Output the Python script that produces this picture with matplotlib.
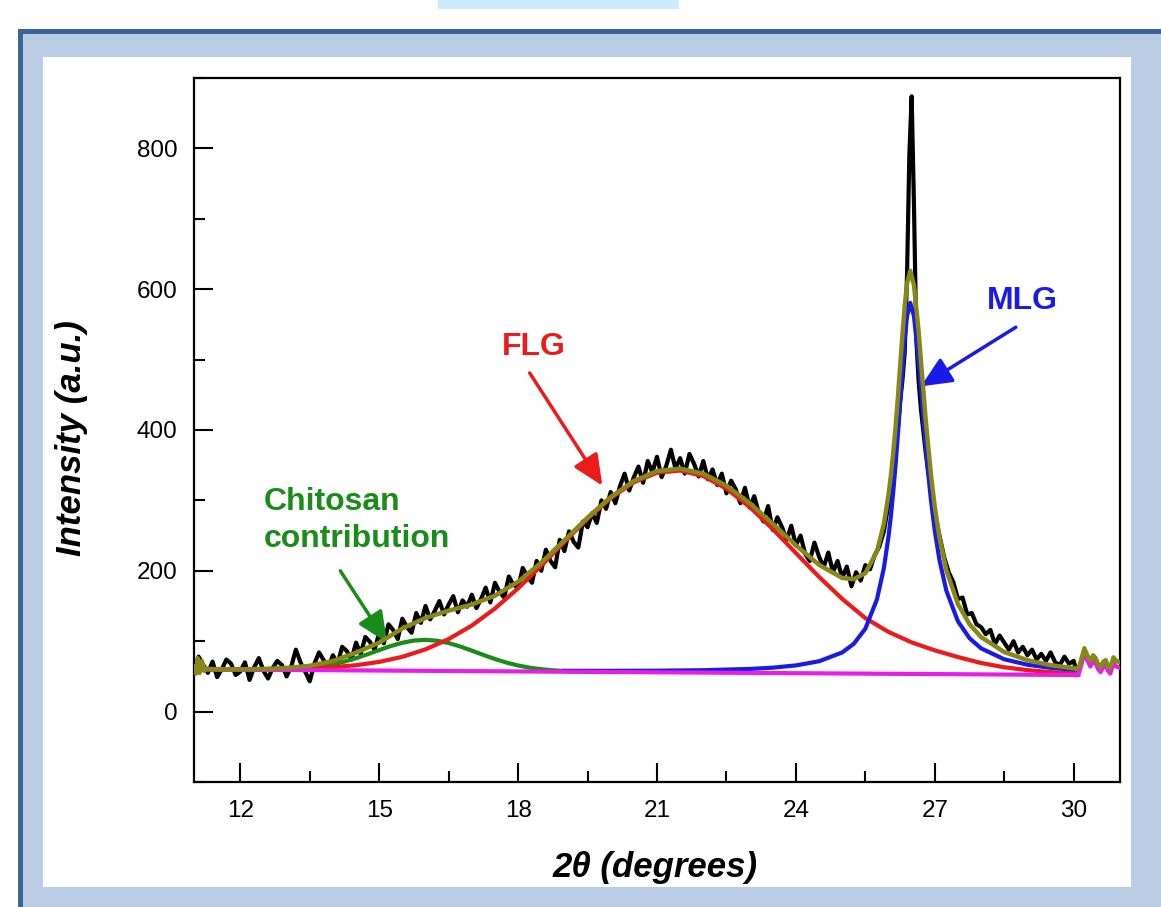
import numpy as np
import matplotlib
matplotlib.use("Agg")
import matplotlib.pyplot as plt
from matplotlib.patches import Rectangle
from matplotlib.ticker import MultipleLocator

plt.rcParams['font.family'] = ['Liberation Sans', 'DejaVu Sans']

# ---------------- data ----------------
# raw XRD pattern (black)
black_x = np.concatenate([np.round(np.arange(11.0, 25.95, 0.1), 2),
                          np.round(np.arange(26.0, 27.01, 0.05), 2),
                          np.round(np.arange(27.1, 30.01, 0.1), 2),
                          [30.05]])
black_y = [62, 78, 66, 55, 71, 49, 60, 74, 68, 52,
           57, 70, 45, 63, 76, 58, 47, 62, 72, 66,
           50, 64, 88, 70, 57, 43, 68, 84, 73, 62,
           80, 68, 92, 86, 74, 98, 82, 106, 99, 88,
           112, 97, 124, 116, 103, 132, 120, 112, 140, 126,
           150, 131, 143, 157, 138, 152, 164, 141, 158, 149,
           166, 147, 160, 176, 155, 183, 170, 162, 192, 180,
           176, 204, 192, 183, 214, 200, 230, 214, 205, 244,
           228, 256, 241, 233, 270, 262, 282, 268, 300, 288,
           312, 296, 320, 338, 314, 333, 348, 325, 356, 340,
           362, 333, 349, 372, 345, 360, 338, 366, 352, 334,
           356, 330, 344, 322, 338, 310, 328, 316, 296, 318,
           290, 306, 282, 270, 292, 258, 276, 262, 244, 264,
           236, 250, 224, 214, 240, 220, 205, 226, 198, 214,
           190, 206, 178, 198, 186, 208, 202, 222, 234, 256,
           295, 322, 350, 375, 400, 440, 470, 510, 620, 790, 874,
           720, 530, 470, 430, 400, 370, 345, 322, 300, 282,
           250, 220, 198, 184, 160, 162, 138, 140, 124,
           120, 110, 116, 96, 108, 98, 88, 100, 84, 92,
           80, 88, 74, 82, 72, 84, 70, 66, 78, 68,
           72, 60]

# baseline (magenta)
base_x = [11.0, 30.1]
base_y = [60.0, 52.0]

# chitosan contribution (green)
green_x = [11, 12, 12.5, 13, 13.25, 13.5, 13.75, 14, 14.25, 14.5, 14.75, 15, 15.25,
           15.5, 15.75, 16, 16.25, 16.5, 16.75, 17, 17.25, 17.5, 17.75, 18, 18.25,
           18.5, 18.75, 19, 19.5, 20]
green_y = [60.0, 59.6, 59.7, 60.2, 61.0, 62.3, 64.3, 67.2, 71.0, 75.9, 81.5, 87.4, 93.1,
           97.8, 100.9, 101.9, 100.7, 97.4, 92.5, 86.6, 80.5, 74.7, 69.6, 65.5, 62.4,
           60.2, 58.7, 57.7, 56.8, 56.3]

# FLG (red)
red_x = [11, 12, 12.5, 13, 13.5, 14, 14.5, 15, 15.5, 16, 16.5, 17, 17.5, 18, 18.5,
         19, 19.5, 20, 20.5, 21, 21.5, 22, 22.5, 23, 23.5, 24, 24.5, 25, 25.5, 26,
         26.5, 27, 27.5, 28, 28.5, 29, 29.5, 30, 30.1]
red_y = [60.0, 59.9, 60.0, 60.5, 61.4, 63.1, 65.9, 70.6, 77.8, 88.4, 103.0, 122.2,
         146.4, 175.1, 207.2, 241.0, 273.9, 303.1, 325.7, 339.3, 342.4, 334.6, 316.7,
         290.7, 259.3, 225.2, 191.4, 160.1, 132.8, 113.2, 98.3, 87.0, 77.5, 69.0,
         63.0, 58.9, 56.1, 54.1, 53.8]

# MLG (blue)
blue_x = [19, 20, 21, 22, 23, 23.5, 24, 24.5, 25, 25.25, 25.5, 25.75, 25.9, 26, 26.05,
          26.1, 26.15, 26.2, 26.25, 26.3, 26.35, 26.4, 26.47, 26.55, 26.65, 26.7, 26.75,
          26.8, 26.85, 26.92, 27, 27.1, 27.25, 27.5, 27.75, 28, 28.5, 29, 29.5, 30, 30.1]
blue_y = [57.9, 57.9, 58.1, 58.8, 60.6, 62.4, 65.6, 71.5, 84.0, 96.3, 117.8, 159.3,
          203.8, 248.6, 276.9, 310.0, 348.1, 391.0, 437.3, 484.5, 527.9, 561.4, 580.6,
          562.0, 498.7, 458.9, 418.3, 379.3, 343.2, 298.7, 256.6, 215.5, 171.7, 128.2,
          104.2, 89.8, 74.3, 66.6, 62.2, 59.5, 59.0]

# cumulative fit (olive)
olive_x = [11.0, 11.04, 11.08, 11.12, 11.17, 11.22, 11.27, 11.5, 12, 12.5, 13, 13.5,
           14, 14.5, 15, 15.5, 16, 16.5, 17, 17.5, 18, 18.5, 19, 19.5, 20, 20.5, 21,
           21.5, 22, 22.5, 23, 23.5, 24, 24.5, 25, 25.25, 25.5, 25.75, 25.9, 26, 26.05,
           26.1, 26.15, 26.2, 26.25, 26.3, 26.35, 26.4, 26.47, 26.55, 26.65, 26.7, 26.75,
           26.8, 26.85, 26.92, 27, 27.1, 27.25, 27.5, 27.75, 28, 28.5, 29, 29.5, 30, 30.05]
olive_y = [64, 54, 76, 55, 72, 58, 61, 60.1, 60.2, 60.6, 62.0, 65.1,
           71.9, 83.8, 97.9, 118.1, 133.0, 143.4, 152.1, 164.7, 184.5, 211.6, 243.3,
           275.6, 304.7, 327.6, 341.6, 345.2, 338.0, 321.0, 296.3, 266.9, 236.2, 208.5,
           189.9, 188.1, 196.6, 227.3, 266.8, 308.0, 334.4, 366.0, 402.1, 443.5, 489.4,
           534.0, 575.9, 607.9, 626.1, 606.0, 540.7, 498.9, 458.8, 417.3, 382.2, 334.7,
           290.3, 247.5, 200.7, 152.6, 124.2, 105.9, 84.6, 73.0, 66.0, 61.5, 61.0]

# raw data beyond the fitted range (drawn olive / magenta)
tail_x = [30.05, 30.12, 30.18, 30.23, 30.3, 30.36, 30.42, 30.47, 30.53, 30.58, 30.64,
          30.69, 30.74, 30.79, 30.86, 30.92, 31.0]
tail_olive_y = [61, 64, 78, 90, 79, 72, 80, 76, 67, 63, 71, 73, 65, 62, 77, 72, 70]
tail_base_y = [52, 56, 70, 82, 72, 64, 72, 69, 60, 56, 63, 66, 58, 54, 69, 64, 62]

x_ticks = [12, 15, 18, 21, 24, 27, 30]
y_ticks = [0, 200, 400, 600, 800]

# ---------------- figure ----------------
W, H = 1161, 907
fig = plt.figure(figsize=(W / 100, H / 100), dpi=100)
fig.patch.set_facecolor('white')


def frect(x0, y0, x1, y1, color, z):
    # pixel box (top-left origin) -> figure rectangle
    fig.add_artist(Rectangle((x0 / W, 1 - y1 / H), (x1 - x0) / W, (y1 - y0) / H,
                             transform=fig.transFigure, facecolor=color,
                             edgecolor='none', zorder=z))


frect(438, 0, 679, 9, '#CCEBFF', -10)
frect(18, 29, W, H, '#B8CCE4', -10)
frect(18, 29, W, 34, '#3D6494', -9)
frect(18, 29, 23, H, '#3D6494', -9)
frect(43, 57, 1131, 887, 'white', -8)

ax = fig.add_axes([194 / W, 1 - 782 / H, (1120 - 194) / W, (782 - 78) / H])
ax.set_facecolor('white')

lw = 3.0
ax.plot(black_x, black_y, color='black', lw=3.0, zorder=2)
ax.plot(green_x, green_y, color='#1a8c1a', lw=lw, zorder=3)
ax.plot(red_x, red_y, color='#ec1a1a', lw=lw, zorder=3)
ax.plot(blue_x, blue_y, color='#1a1ae6', lw=lw, zorder=4)
ax.plot(base_x, base_y, color='#e61ee6', lw=lw, zorder=5)
ax.plot(tail_x, tail_base_y, color='#e61ee6', lw=lw, zorder=5)
ax.plot(olive_x, olive_y, color='#888816', lw=3.2, zorder=6)
ax.plot(tail_x, tail_olive_y, color='#888816', lw=3.2, zorder=6)

ax.set_xlim(11, 31)
ax.set_ylim(-100, 900)
ax.set_xticks(x_ticks)
ax.set_yticks(y_ticks)
ax.xaxis.set_minor_locator(MultipleLocator(1.5))
ax.yaxis.set_minor_locator(MultipleLocator(100))
ax.tick_params(which='both', direction='in', top=False, right=False, width=1.5)
ax.tick_params(which='major', length=14, labelsize=17.5)
ax.tick_params(axis='x', which='major', pad=13)
ax.tick_params(axis='y', which='major', pad=12)
ax.tick_params(which='minor', length=8)
for s in ax.spines.values():
    s.set_linewidth(1.6)

# axis titles
fig.text(655 / W, 1 - 868 / H, '2θ (degrees)', fontsize=25, fontweight='bold',
         fontstyle='italic', ha='center', va='center')
fig.text(72 / W, 1 - 438 / H, 'Intensity (a.u.)', fontsize=25, fontweight='bold',
         fontstyle='italic', ha='center', va='center', rotation=90)

# annotations
arrow_style = '-|>,head_width=0.5,head_length=1.1'
ax.text(18.34, 518, 'FLG', color='#ec1a1a', fontsize=23, fontweight='bold',
        ha='center', va='center')
ax.annotate('', xy=(19.82, 321), xytext=(18.25, 481),
            arrowprops=dict(arrowstyle=arrow_style, color='#ec1a1a', lw=2.5,
                            mutation_scale=17, shrinkA=0, shrinkB=0))
ax.text(12.5, 271, 'Chitosan\ncontribution', color='#1a8c1a', fontsize=23,
        fontweight='bold', ha='left', va='center', linespacing=1.3)
ax.annotate('', xy=(15.17, 98), xytext=(14.16, 200),
            arrowprops=dict(arrowstyle=arrow_style, color='#1a8c1a', lw=2.5,
                            mutation_scale=17, shrinkA=0, shrinkB=0))
ax.text(28.9, 583, 'MLG', color='#1a1ae6', fontsize=23, fontweight='bold',
        ha='center', va='center')
ax.annotate('', xy=(26.7, 462), xytext=(28.75, 546),
            arrowprops=dict(arrowstyle=arrow_style, color='#1a1ae6', lw=2.5,
                            mutation_scale=17, shrinkA=0, shrinkB=0))

fig.savefig('out.png', dpi=100)
